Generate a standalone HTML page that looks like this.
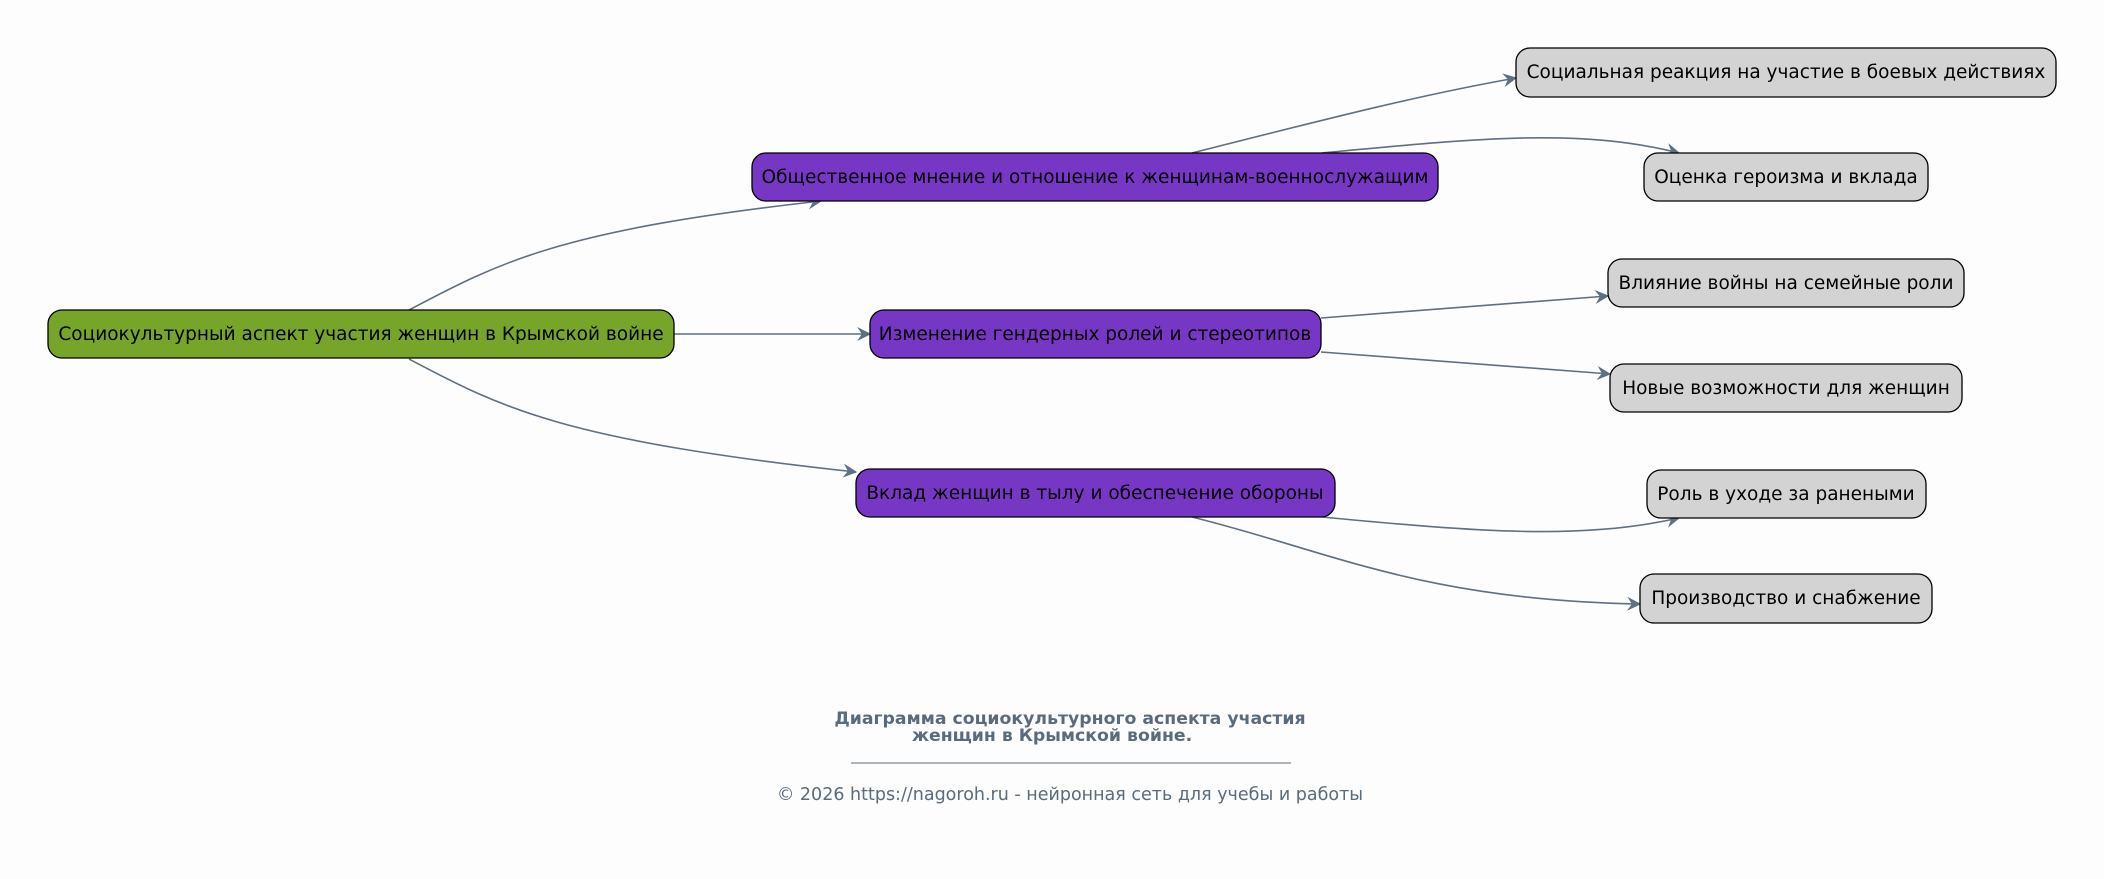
<!DOCTYPE html>
<html><head><meta charset="utf-8"><style>
html,body{margin:0;padding:0;background:#fdfdfd;}
svg{display:block}
text{font-family:"DejaVu Sans","Liberation Sans",sans-serif;}
</style></head><body>
<svg width="2104" height="879" viewBox="0 0 2104 879" xmlns="http://www.w3.org/2000/svg">
<defs>
<marker id="a" viewBox="0 0 12 12" refX="11" refY="6" markerWidth="14" markerHeight="14" markerUnits="userSpaceOnUse" orient="auto">
<path d="M0,0 L12,6 L0,12 L4,6 Z" fill="#5f7080"/>
</marker>
</defs>
<rect width="2104" height="879" fill="#fdfdfd"/>
<g fill="none" stroke="#5f7080" stroke-width="1.6" marker-end="url(#a)">
<path d="M409,310 C500,262 560,230 821,201"/>
<path d="M674,334 L870,334"/>
<path d="M409,359 C500,407 560,440 856,472"/>
<path d="M1192,153 C1330,118 1420,95 1516,78"/>
<path d="M1322,153 C1480,138 1580,128 1679,153"/>
<path d="M1321,318 L1608,296"/>
<path d="M1321,352 L1610,374"/>
<path d="M1322,517 C1480,532 1580,540 1679,518"/>
<path d="M1192,517 C1330,551 1420,600 1640,604"/>
</g>
<g stroke="#000" stroke-width="1.3">
<rect x="48" y="310" width="626" height="48" rx="14" fill="#76a52a"/>
<rect x="752" y="153" width="686" height="48" rx="14" fill="#7637c4"/>
<rect x="870" y="310" width="451" height="48" rx="14" fill="#7637c4"/>
<rect x="856" y="469" width="479" height="48" rx="14" fill="#7637c4"/>
<rect x="1516" y="48" width="540" height="49" rx="14" fill="#d3d3d3"/>
<rect x="1644" y="153" width="284" height="48" rx="14" fill="#d3d3d3"/>
<rect x="1608" y="259" width="356" height="48" rx="14" fill="#d3d3d3"/>
<rect x="1610" y="364" width="352" height="48" rx="14" fill="#d3d3d3"/>
<rect x="1647" y="470" width="279" height="48" rx="14" fill="#d3d3d3"/>
<rect x="1640" y="574" width="292" height="49" rx="14" fill="#d3d3d3"/>
</g>
<g font-size="18.5" fill="#000" text-anchor="middle">
<text x="361" y="340">Социокультурный аспект участия женщин в Крымской войне</text>
<text x="1095" y="183">Общественное мнение и отношение к женщинам-военнослужащим</text>
<text x="1095" y="340">Изменение гендерных ролей и стереотипов</text>
<text x="1095" y="499">Вклад женщин в тылу и обеспечение обороны</text>
<text x="1786" y="78">Социальная реакция на участие в боевых действиях</text>
<text x="1786" y="183">Оценка героизма и вклада</text>
<text x="1786" y="289">Влияние войны на семейные роли</text>
<text x="1786" y="394">Новые возможности для женщин</text>
<text x="1786" y="500">Роль в уходе за ранеными</text>
<text x="1786" y="604">Производство и снабжение</text>
</g>
<g fill="#5a6b7b" text-anchor="middle">
<text x="1070" y="724" font-size="17.3" font-weight="bold">Диаграмма социокультурного аспекта участия</text>
<text x="1052" y="741" font-size="17.3" font-weight="bold">женщин в Крымской войне.</text>
<line x1="851" y1="763" x2="1291" y2="763" stroke="#5a6b7b" stroke-width="1"/>
<text x="1070" y="800" font-size="17.5">© 2026 https://nagoroh.ru - нейронная сеть для учебы и работы</text>
</g>
</svg>
</body></html>
